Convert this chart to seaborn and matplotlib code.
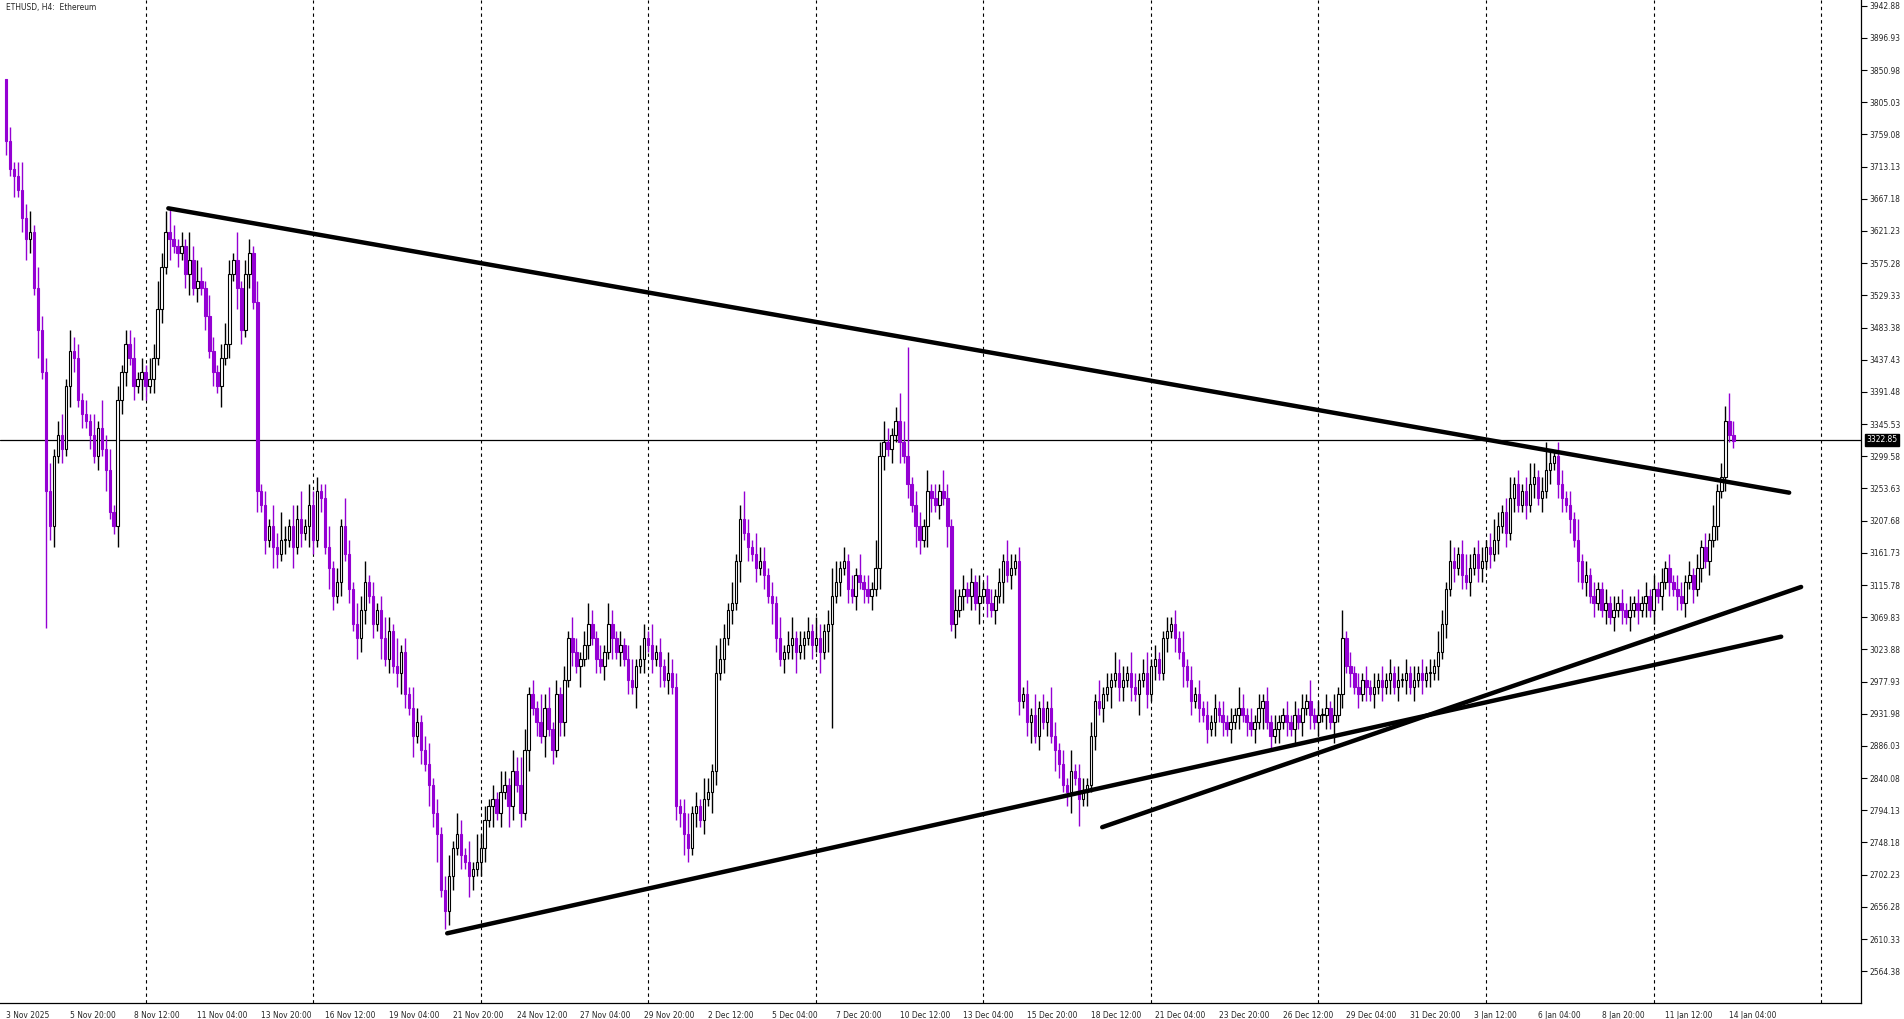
import numpy as np
import pandas as pd
import matplotlib
matplotlib.use("Agg")
import matplotlib.pyplot as plt
import seaborn as sns

# ETHUSD H4 closes (one value per candle)
closes = [
    3750, 3710, 3700, 3680, 3640, 3610, 3620, 3540, 3480, 3420,
    3250, 3200, 3300, 3330, 3310, 3400, 3450, 3440, 3380, 3360,
    3350, 3330, 3300, 3340, 3310, 3280, 3220, 3200, 3380, 3420,
    3460, 3440, 3400, 3410, 3420, 3400, 3410, 3440, 3510, 3570,
    3620, 3610, 3600, 3590, 3600, 3560, 3580, 3540, 3550, 3540,
    3500, 3450, 3420, 3400, 3440, 3460, 3560, 3580, 3540, 3480,
    3560, 3590, 3520, 3250, 3230, 3180, 3200, 3170, 3160, 3180,
    3180, 3200, 3170, 3210, 3190, 3200, 3230, 3180, 3250, 3240,
    3170, 3140, 3100, 3120, 3200, 3160, 3110, 3060, 3040, 3080,
    3120, 3100, 3060, 3080, 3040, 3010, 3050, 3000, 2990, 3020,
    2960, 2940, 2900, 2920, 2880, 2860, 2830, 2790, 2760, 2680,
    2650, 2700, 2740, 2760, 2730, 2720, 2700, 2710, 2720, 2740,
    2780, 2800, 2810, 2790, 2820, 2830, 2800, 2850, 2830, 2790,
    2880, 2960, 2940, 2920, 2900, 2940, 2910, 2880, 2960, 2920,
    2980, 3040, 3020, 3000, 3010, 3030, 3060, 3040, 3010, 3000,
    3020, 3060, 3040, 3020, 3030, 3010, 2980, 2970, 3000, 3010,
    3040, 3030, 3010, 3020, 3000, 2980, 2990, 2970, 2800, 2790,
    2760, 2740, 2790, 2800, 2780, 2810, 2820, 2850, 2990, 3010,
    3040, 3080, 3090, 3150, 3210, 3190, 3170, 3160, 3140, 3150,
    3130, 3100, 3090, 3040, 3010, 3020, 3030, 3040, 3020, 3030,
    3040, 3050, 3030, 3040, 3020, 3050, 3060, 3100, 3120, 3140,
    3150, 3110, 3100, 3130, 3120, 3110, 3100, 3110, 3140, 3300,
    3320, 3310, 3330, 3350, 3320, 3300, 3260, 3230, 3200, 3180,
    3200, 3250, 3240, 3230, 3250, 3240, 3200, 3060, 3080, 3100,
    3110, 3100, 3120, 3090, 3100, 3110, 3090, 3080, 3100, 3120,
    3150, 3130, 3140, 3150, 2950, 2960, 2920, 2930, 2900, 2940,
    2920, 2940, 2900, 2880, 2860, 2830, 2820, 2850, 2840, 2810,
    2820, 2830, 2900, 2950, 2940, 2960, 2970, 2980, 2990, 2970,
    2980, 2990, 2970, 2960, 2980, 2990, 2960, 3000, 3010, 2990,
    3040, 3050, 3060, 3040, 3020, 3000, 2980, 2950, 2960, 2940,
    2930, 2910, 2920, 2940, 2930, 2920, 2910, 2920, 2930, 2940,
    2930, 2920, 2910, 2920, 2940, 2950, 2920, 2900, 2910, 2920,
    2930, 2920, 2910, 2930, 2920, 2940, 2950, 2930, 2920, 2930,
    2930, 2940, 2920, 2930, 2960, 3040, 3000, 2990, 2970, 2960,
    2980, 2970, 2960, 2970, 2980, 2970, 2980, 2990, 2970, 2980,
    2980, 2990, 2970, 2980, 2990, 2980, 2990, 2990, 3000, 3020,
    3060, 3110, 3150, 3140, 3160, 3130, 3120, 3140, 3160, 3140,
    3150, 3170, 3160, 3180, 3200, 3220, 3190, 3240, 3260, 3230,
    3250, 3230, 3260, 3270, 3240, 3250, 3280, 3290, 3300, 3260,
    3240, 3230, 3210, 3180, 3150, 3120, 3130, 3100, 3090, 3110,
    3080, 3090, 3070, 3080, 3090, 3080, 3070, 3080, 3090, 3080,
    3090, 3100, 3080, 3110, 3100, 3120, 3140, 3120, 3110, 3100,
    3090, 3120, 3130, 3110, 3140, 3170, 3150, 3180, 3200, 3250,
    3270, 3350, 3330, 3322,
]
first_open = 3838

# wick lengths per candle, one digit per candle, in units of 10
wick_up = ("3212423132" "2412313221" "2131423121" "2231213242" "3121214232"
           "1321232141" "2213121324" "2132413221" "2312142132" "3121232141"
           "2132123121" "2313213142" "2121321324" "3121423121" "2132123212"
           "1321212312" "2131213221" "2312132143" "2131242132" "2121312312"
           "1213212431" "2121312142" "3212432122" "1312132131" "2121312212"
           "1321212131" "2132121312" "2121312132" "2132123121" "1212131212"
           "1212121213" "2121212121" "1212121312" "1213141212" "1212121212"
           "1212121213" "2132123212" "2123212312" "1232124212" "2121312121"
           "1212121212" "1212121212" "2121212131" "2242200000")
wick_dn = ("2131232141" "8231213212" "1212131232" "2121321212" "1312123121"
           "2121312132" "1213121321" "2131213212" "1321212132" "2121312123"
           "2131213241" "4221213212" "2131213212" "1312131212" "2121312121"
           "2131212131" "2121312122" "3212121321" "2121312121" "2132121231"
           "2121313212" "1212121213" "2121312132" "1321213121" "2121312121"
           "3121212312" "1213212313" "1212121312" "2121312121" "1212131212"
           "1212121212" "1212131212" "1212121212" "1213121212" "1212121212"
           "1212121212" "1212121212" "2121212121" "1212121212" "2121312121"
           "1212121212" "1212121212" "1212121212" "1211100000")
spike_high = {0: 3838, 41: 3655, 226: 3455, 388: 3305, 431: 3372}
spike_low = {10: 3055, 110: 2625, 27: 3188, 207: 2912, 269: 2772}

ytick_start = 2564.38
ytick_step = 45.95
last_price = 3322.85
xlabels = ["3 Nov 2025", "5 Nov 20:00", "8 Nov 12:00", "11 Nov 04:00", "13 Nov 20:00",
           "16 Nov 12:00", "19 Nov 04:00", "21 Nov 20:00", "24 Nov 12:00", "27 Nov 04:00",
           "29 Nov 20:00", "2 Dec 12:00", "5 Dec 04:00", "7 Dec 20:00", "10 Dec 12:00",
           "13 Dec 04:00", "15 Dec 20:00", "18 Dec 12:00", "21 Dec 04:00", "23 Dec 20:00",
           "26 Dec 12:00", "29 Dec 04:00", "31 Dec 20:00", "3 Jan 12:00", "6 Jan 04:00",
           "8 Jan 20:00", "11 Jan 12:00", "14 Jan 04:00"]

# trendlines: (bar index, price) endpoints
trend_upper = ([40.7, 447.0], [3653.6, 3247.6])
trend_low1 = ([110.6, 445.0], [2618.5, 3042.0])
trend_low2 = ([274.8, 450.0], [2770.0, 3113.0])

n = len(closes)
df = pd.DataFrame({"close": closes})
df["open"] = [first_open] + closes[:-1]
df["up"] = [int(c) * 10 for c in wick_up[:n]]
df["dn"] = [int(c) * 10 for c in wick_dn[:n]]
df["high"] = df[["open", "close"]].max(axis=1) + df["up"]
df["low"] = df[["open", "close"]].min(axis=1) - df["dn"]
for k, v in spike_high.items():
    df.loc[k, "high"] = v
for k, v in spike_low.items():
    df.loc[k, "low"] = v
df["idx"] = np.arange(n)

sns.set_theme(style="white")
plt.rcParams["font.family"] = ["DejaVu Sans"]
plt.rcParams["font.stretch"] = "condensed"

fig = plt.figure(figsize=(19.04, 10.19), dpi=100)
ax = fig.add_axes([0.0, 0.0157, 0.9774, 0.9843])

purple = "#9400D3"
bull = df[df["close"] >= df["open"]]
bear = df[df["close"] < df["open"]]
ax.vlines(bull["idx"], bull["low"], bull["high"], color="black", lw=1, zorder=2)
ax.vlines(bear["idx"], bear["low"], bear["high"], color=purple, lw=1, zorder=2)
ax.bar(bull["idx"], (bull["close"] - bull["open"]).clip(lower=2), bottom=bull["open"],
       width=0.6, color="white", edgecolor="black", lw=0.8, zorder=3)
ax.bar(bear["idx"], bear["open"] - bear["close"], bottom=bear["close"],
       width=0.6, color=purple, edgecolor=purple, lw=0.8, zorder=3)

# weekly separators
for gx in np.arange(35, 460, 42):
    ax.axvline(gx, color="black", ls=(0, (3, 3)), lw=0.8, zorder=1)

for tx, ty in (trend_upper, trend_low1, trend_low2):
    sns.lineplot(x=tx, y=ty, ax=ax, color="black", lw=3.2, zorder=4)

ax.axhline(last_price, color="black", lw=0.9, zorder=1)

ax.set_xlim(-1.5, 465)
ax.set_ylim(2519, 3951)
yt = ytick_start + ytick_step * np.arange(31)
ax.yaxis.tick_right()
ax.set_yticks(yt)
ax.set_yticklabels([f"{v:.2f}" for v in yt], fontsize=6)
ax.set_xticks(np.arange(len(xlabels)) * 16)
ax.set_xticklabels(xlabels, fontsize=6, ha="left")
ax.tick_params(axis="both", length=4, width=0.8, color="black", pad=2, direction="out")
ax.tick_params(axis="x", length=5, pad=1)
for s in ("top", "left"):
    ax.spines[s].set_visible(False)
for s in ("right", "bottom"):
    ax.spines[s].set_color("black")
    ax.spines[s].set_linewidth(0.9)

ax.text(1.003, last_price, f"{last_price:.2f}", transform=ax.get_yaxis_transform(),
        fontsize=6, color="white", va="center", ha="left",
        bbox=dict(boxstyle="square,pad=0.15", fc="black", ec="black"))
ax.text(0.003, 0.997, "ETHUSD, H4:  Ethereum", transform=ax.transAxes,
        fontsize=6, va="top", ha="left")

fig.savefig("out.png", dpi=100)
